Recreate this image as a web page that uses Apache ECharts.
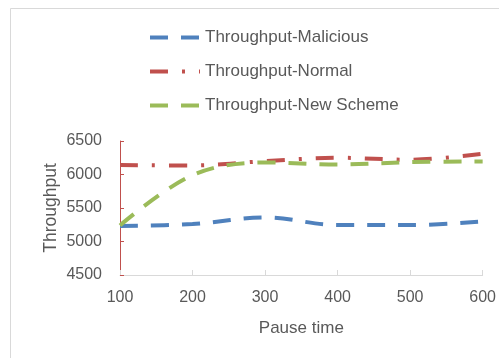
<!DOCTYPE html>
<html>
<head>
<meta charset="utf-8">
<script src="https://cdn.jsdelivr.net/npm/echarts@6/dist/echarts.min.js"></script>
<style>
  html, body { margin: 0; padding: 0; background: #fff; }
  #chart { width: 499px; height: 358px; }
</style>
</head>
<body>
<div id="chart"></div>
<script>
// Pause time (x) and throughput per scheme
const pauseTimes = [100, 200, 300, 400, 500, 600];
const malicious = [5230, 5260, 5360, 5245, 5245, 5300];
const normal = [6140, 6135, 6200, 6250, 6220, 6310];
const newScheme = [5240, 5990, 6180, 6150, 6185, 6195];
const seriesNames = ['Throughput-Malicious', 'Throughput-Normal', 'Throughput-New Scheme'];

const FONT = 'Liberation Sans';
const TEXT = '#595959';

const pairs = vals => pauseTimes.map((x, i) => [x, vals[i]]);

const chart = echarts.init(document.getElementById('chart'), null, { renderer: 'canvas' });

function lineSeries(name, vals, color, dash) {
  return {
    name: name,
    type: 'line',
    data: pairs(vals),
    smooth: 0.35,
    symbol: 'none',
    color: color,
    lineStyle: { color: color, width: 4, type: dash },
    itemStyle: { color: color }
  };
}

chart.setOption({
  animation: false,
  backgroundColor: '#ffffff',
  graphic: [{
    type: 'rect',
    shape: { x: 10.5, y: 8.5, width: 520, height: 400 },
    style: { fill: 'none', stroke: '#d9d9d9', lineWidth: 1 },
    z: -10
  }],
  legend: {
    orient: 'vertical',
    left: 148,
    top: 29,
    padding: 0,
    itemWidth: 50,
    itemHeight: 14,
    itemGap: 17,
    itemStyle: { opacity: 0 },
    lineStyle: { width: 4 },
    textStyle: { fontFamily: FONT, fontSize: 17, color: TEXT },
    data: seriesNames
  },
  grid: { left: 120, right: 16, top: 141, bottom: 83 },
  xAxis: {
    type: 'value',
    min: 100,
    max: 600,
    interval: 100,
    name: 'Pause time',
    nameLocation: 'middle',
    nameGap: 45,
    nameMoveOverlap: false,
    nameTextStyle: { fontFamily: FONT, fontSize: 17, color: TEXT },
    axisLine: { lineStyle: { color: '#d9d9d9', width: 1 } },
    axisTick: { inside: true, length: 5, lineStyle: { color: '#d9d9d9' } },
    axisLabel: { fontFamily: FONT, fontSize: 16, color: TEXT, margin: 15 },
    splitLine: { show: false }
  },
  yAxis: {
    type: 'value',
    min: 4500,
    max: 6500,
    interval: 500,
    name: 'Throughput',
    nameLocation: 'middle',
    nameGap: 60,
    nameMoveOverlap: false,
    nameRotate: 90,
    nameTextStyle: { fontFamily: FONT, fontSize: 17.5, color: TEXT },
    axisLine: { show: true, lineStyle: { color: '#c0504d', width: 1 } },
    axisTick: { show: true, inside: true, length: 4, lineStyle: { color: '#c0504d' } },
    axisLabel: { fontFamily: FONT, fontSize: 16, color: TEXT, margin: 18, formatter: v => String(v) },
    splitLine: { show: false }
  },
  series: [
    lineSeries(seriesNames[0], malicious, '#4f81bd', [18, 13]),
    lineSeries(seriesNames[1], normal, '#c0504d', [18, 14, 3, 14]),
    lineSeries(seriesNames[2], newScheme, '#9bbb59', [18, 13])
  ]
});
</script>
</body>
</html>
